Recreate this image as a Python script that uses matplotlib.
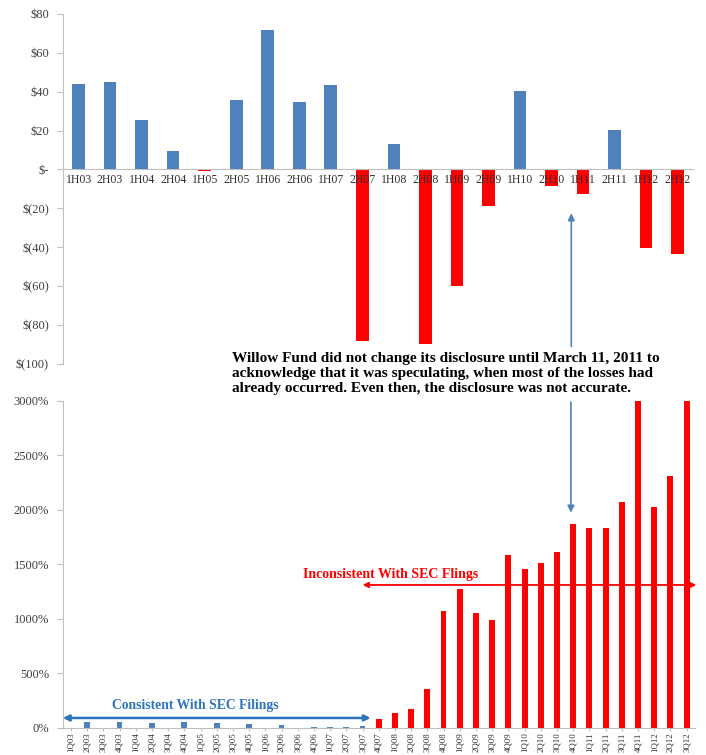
import matplotlib
matplotlib.use("Agg")
import matplotlib.pyplot as plt
import numpy as np

plt.rcParams['font.family'] = ['Liberation Serif', 'DejaVu Serif']

# semi-annual profit / loss ($ millions)
half_labels = ["1H03", "2H03", "1H04", "2H04", "1H05", "2H05", "1H06", "2H06", "1H07", "2H07",
               "1H08", "2H08", "1H09", "2H09", "1H10", "2H10", "1H11", "2H11", "1H12", "2H12"]
half_values = [44, 45, 25.5, 9.5, -1, 36, 71.5, 34.5, 43.5, -88,
               13, -90, -60, -19, 40.5, -8.5, -12.5, 20.5, -40.5, -43.5]
top_yticks = [80, 60, 40, 20, 0, -20, -40, -60, -80, -100]
top_yticklabels = ["$80", "$60", "$40", "$20", "$-", "$(20)", "$(40)", "$(60)", "$(80)", "$(100)"]

# quarterly exposure (% of fund)
quarter_labels = ["1Q03", "2Q03", "3Q03", "4Q03", "1Q04", "2Q04", "3Q04", "4Q04", "1Q05", "2Q05",
                  "3Q05", "4Q05", "1Q06", "2Q06", "3Q06", "4Q06", "1Q07", "2Q07", "3Q07", "4Q07",
                  "1Q08", "2Q08", "3Q08", "4Q08", "1Q09", "2Q09", "3Q09", "4Q09", "1Q10", "2Q10",
                  "3Q10", "4Q10", "1Q11", "2Q11", "3Q11", "4Q11", "1Q12", "2Q12", "3Q12"]
quarter_values = [0, 55, 0, 55, 0, 45, 0, 55, 0, 50,
                  0, 40, 0, 25, 0, 10, 10, 10, 15, 80,
                  140, 175, 360, 1075, 1275, 1058, 991, 1584, 1459, 1514,
                  1617, 1869, 1832, 1838, 2071, 3000, 2030, 2312, 3000]
n_consistent = 19
bottom_yticks = [0, 500, 1000, 1500, 2000, 2500, 3000]

BLUE = "#4F81BD"
RED = "#FF0000"
GRID = "#BFBFBF"
TXT = "#404040"

fig = plt.figure(figsize=(7.06, 7.55), dpi=100)

# ---- top chart
ax1 = fig.add_axes([0.089, 0.518, 0.893, 0.4635])
ax1.spines['bottom'].set_position(('data', 0))  # do this first, it resets the ticks
x1 = np.arange(len(half_values))
cols1 = [BLUE if v >= 0 else RED for v in half_values]
ax1.bar(x1, half_values, width=0.4, color=cols1)
ax1.set_xlim(-0.5, len(half_values) - 0.5)
ax1.set_ylim(-100, 80)
ax1.set_yticks(top_yticks)
ax1.set_yticklabels(top_yticklabels, fontsize=9, color=TXT)
ax1.set_xticks(x1)
ax1.set_xticklabels(half_labels, fontsize=8.5, color="#303030")
for s in ['top', 'right']:
    ax1.spines[s].set_visible(False)
ax1.spines['left'].set_color(GRID)
ax1.spines['bottom'].set_color(GRID)
ax1.tick_params(axis='y', length=4, color=GRID, pad=6)
ax1.tick_params(axis='x', length=0, pad=3)
ax1.set_zorder(1)

# ---- bottom chart
ax2 = fig.add_axes([0.089, 0.0358, 0.895, 0.4331])
x2 = np.arange(len(quarter_values))
cols2 = [BLUE if i < n_consistent else RED for i in range(len(quarter_values))]
ax2.bar(x2, quarter_values, width=0.36, color=cols2)
ax2.set_xlim(-0.5, len(quarter_values) - 0.5)
ax2.set_ylim(0, 3000)
ax2.set_yticks(bottom_yticks)
ax2.set_yticklabels([f"{t}%" for t in bottom_yticks], fontsize=9, color=TXT)
ax2.set_xticks(x2)
ax2.set_xticklabels(quarter_labels, fontsize=6.3, rotation=90, color="#303030")
for s in ['top', 'right']:
    ax2.spines[s].set_visible(False)
ax2.spines['left'].set_color(GRID)
ax2.spines['bottom'].set_color(GRID)
ax2.tick_params(axis='y', length=4, color=GRID, pad=6)
ax2.tick_params(axis='x', length=2, color=GRID, pad=1)

# consistent / inconsistent ranges
ax2.annotate("", xy=(-0.5, 92), xytext=(n_consistent - 0.5, 92),
             arrowprops=dict(arrowstyle="<|-|>", color="#2E75C0", lw=1.8,
                             mutation_scale=9, shrinkA=0, shrinkB=0),
             annotation_clip=False)
ax2.text(7.7, 205, "Consistent With SEC Filings", ha="center", va="center",
         color="#2E75C0", fontsize=9.8, fontweight="bold")
ax2.annotate("", xy=(n_consistent - 1.0, 1312), xytext=(len(quarter_values) - 0.4, 1312),
             arrowprops=dict(arrowstyle="<|-|>", color=RED, lw=1.3,
                             mutation_scale=8, shrinkA=0, shrinkB=0),
             annotation_clip=False)
ax2.text(14.3, 1410, "Inconsistent With SEC Flings", ha="left", va="center",
         color=RED, fontsize=10, fontweight="bold")

# disclosure arrows
ax1.annotate("", xy=(15.63, -22.5), xytext=(15.63, -91),
             arrowprops=dict(arrowstyle="-|>", color=BLUE, lw=1.2,
                             mutation_scale=10, shrinkA=0, shrinkB=0),
             annotation_clip=False)
ax2.annotate("", xy=(30.86, 1975), xytext=(30.86, 2990),
             arrowprops=dict(arrowstyle="-|>", color=BLUE, lw=1.2,
                             mutation_scale=10, shrinkA=0, shrinkB=0),
             annotation_clip=False)

fig.text(0.329, 0.534,
         "Willow Fund did not change its disclosure until March 11, 2011 to\n"
         "acknowledge that it was speculating, when most of the losses had\n"
         "already occurred. Even then, the disclosure was not accurate.",
         ha="left", va="top", fontsize=11, fontweight="bold", color="black",
         linespacing=1.2)

fig.savefig("out.png", dpi=100)
